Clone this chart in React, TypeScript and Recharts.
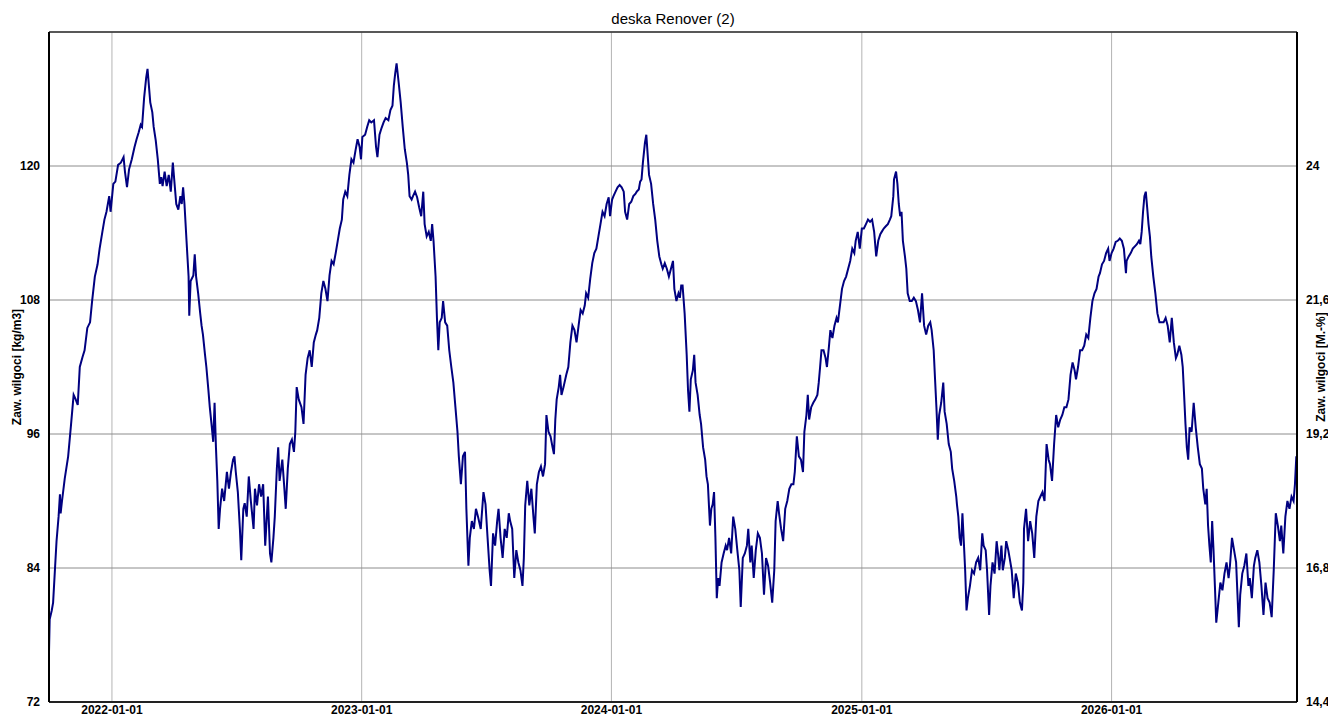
import { LineChart, Line, XAxis, YAxis, CartesianGrid, ReferenceLine, Label } from 'recharts'

// x values are days counted from 2022-01-01
const xTickDays = [0, 365, 730, 1096, 1461]
const xTickLabels = ['2022-01-01', '2023-01-01', '2024-01-01', '2025-01-01', '2026-01-01']
const leftTicks = [72, 84, 96, 108, 120]
const rightTicks = [14.4, 16.8, 19.2, 21.6, 24]

const days1 = [
  -92, -91, -88, -86, -83, -81, -78, -76, -75, -73, -69, -64, -60, -56, -53, -50, -47, -43, -40, -36,
  -32, -29, -25, -21, -18, -14, -11, -8, -4, -2, 2, 5, 9, 13, 17, 19, 22, 25, 29, 33,
  36, 39, 42, 44, 47, 50, 52, 54, 56, 59, 61, 64, 67, 70, 72, 74, 77, 80, 83, 86,
  89, 91, 94, 97, 100, 102, 104, 106, 109, 112, 113, 115, 119, 121, 123, 126, 129, 131, 133, 136,
  138, 141, 143, 146, 148, 150, 152, 154, 156, 158, 161, 164, 168, 171, 174, 177, 179, 181, 184, 187,
  189, 192, 194, 197, 200, 203, 207, 209, 212, 215, 218, 221, 224, 226, 228, 231, 233, 236, 238, 241,
  243, 245, 249, 252, 254, 257, 260, 263, 266, 268, 270, 273, 277, 280, 283, 286, 289, 292, 295, 298,
  300, 303, 306, 309, 312, 315, 318, 321, 324, 327, 330, 333, 336, 338, 341, 344, 347, 350, 353, 356,
  359, 362, 364, 366,
]
const values1 = [
  76.5, 79.4, 80.2, 80.9, 84.2, 86.4, 88.6, 90.6, 88.9, 90.0, 92.0, 94.0, 96.7, 99.5, 99.1, 98.6, 102.0, 102.9, 103.5, 105.5,
  106.0, 107.9, 110.1, 111.2, 112.6, 114.1, 115.2, 115.9, 117.3, 115.9, 118.4, 118.6, 120.1, 120.3, 120.8, 119.5, 118.1, 119.7, 120.6, 121.7,
  122.4, 123.0, 123.7, 123.5, 126.1, 127.9, 128.7, 127.2, 125.7, 124.8, 123.5, 122.3, 120.6, 118.4, 119.0, 118.2, 119.5, 118.2, 119.2, 117.7,
  120.3, 118.8, 116.6, 116.1, 117.3, 116.6, 118.1, 116.6, 113.3, 110.1, 106.6, 109.7, 110.2, 112.1, 110.1, 108.6, 106.8, 105.7, 104.9, 103.1,
  102.0, 99.9, 98.4, 96.6, 95.3, 98.8, 94.8, 91.8, 87.5, 89.3, 91.1, 90.0, 92.6, 91.1, 92.6, 93.7, 94.0, 92.6, 90.8, 87.5,
  84.7, 89.3, 89.8, 88.6, 92.2, 90.0, 87.5, 91.1, 89.6, 91.5, 90.4, 91.5, 86.0, 88.2, 90.4, 85.3, 84.5, 86.7, 88.6, 92.9,
  94.8, 91.8, 93.7, 91.1, 89.3, 92.9, 95.1, 95.5, 94.4, 96.2, 100.2, 99.1, 98.4, 96.9, 101.3, 102.8, 103.5, 102.0, 104.2, 104.9,
  105.3, 106.4, 108.6, 109.7, 109.0, 107.9, 110.2, 111.5, 111.2, 112.2, 113.3, 114.4, 115.2, 117.0, 117.7, 117.3, 119.2, 120.6, 120.3, 121.4,
  122.4, 121.7, 120.6, 122.6,
]

const days2 = [
  370, 373, 376, 379, 383, 386, 388, 391, 394, 397, 400, 404, 407, 410, 412, 414, 416, 419, 422, 425,
  428, 431, 433, 435, 438, 440, 443, 446, 449, 452, 455, 457, 460, 463, 466, 468, 470, 473, 475, 477,
  479, 482, 484, 487, 490, 493, 496, 499, 502, 505, 507, 510, 513, 516, 518, 521, 523, 526, 529, 532,
  535, 539, 543, 546, 549, 552, 554, 557, 560, 563, 565, 568, 571, 574, 577, 580, 582, 585, 588, 591,
  594, 597, 600, 602, 604, 607, 610, 613, 616, 618, 621, 624, 627, 630, 633, 635, 638, 641, 644, 646,
  648, 650, 653, 655, 657, 660, 664, 667, 670, 673, 676, 679, 682, 685, 688, 691, 693, 696, 699, 702,
  705, 708, 711, 714, 717, 720, 723, 726, 728, 731, 733, 736, 739, 742, 745, 748, 750, 753, 756, 759,
  762, 765, 767, 770, 772, 774, 776, 779, 781, 783, 785, 788, 791, 794, 797, 800, 803, 805, 808, 811,
  814, 817, 820, 822, 825, 828,
]
const values2 = [
  122.8, 123.5, 124.1, 123.9, 124.1, 121.7, 120.8, 122.8, 123.4, 123.9, 124.3, 124.1, 125.0, 125.4, 127.2, 128.3, 129.2, 127.5, 125.7, 123.5,
  121.5, 120.3, 119.2, 117.3, 117.0, 117.3, 117.7, 117.2, 116.3, 115.5, 117.7, 114.8, 113.7, 114.1, 113.3, 114.8, 113.3, 110.1, 106.4, 103.5,
  106.0, 106.4, 107.9, 106.0, 105.7, 103.5, 102.0, 100.6, 98.4, 96.2, 94.0, 91.5, 94.0, 94.4, 89.3, 84.2, 86.7, 88.2, 87.5, 89.3,
  88.6, 87.5, 90.8, 89.7, 86.7, 83.8, 82.4, 87.1, 86.0, 88.2, 89.3, 86.7, 84.9, 87.5, 86.7, 88.9, 88.2, 87.5, 83.1, 85.6,
  84.5, 83.8, 82.4, 84.9, 89.6, 91.8, 89.6, 91.1, 88.6, 87.1, 91.5, 92.6, 93.1, 92.2, 93.3, 97.7, 96.2, 95.8, 94.8, 94.2,
  97.3, 99.1, 100.2, 101.3, 99.5, 100.2, 101.3, 102.0, 104.2, 105.7, 105.3, 104.2, 105.7, 107.1, 106.8, 107.5, 108.6, 108.2, 109.9, 111.3,
  112.2, 112.6, 113.7, 114.8, 115.9, 115.5, 116.6, 117.2, 115.5, 117.0, 117.3, 117.7, 118.1, 118.3, 118.1, 117.7, 115.9, 115.2, 116.6, 116.8,
  117.3, 117.5, 117.7, 117.9, 118.6, 118.8, 120.3, 122.1, 122.8, 121.0, 119.2, 118.4, 116.6, 115.2, 113.3, 111.9, 111.2, 110.8, 111.3, 110.8,
  110.1, 110.8, 111.5, 109.0, 107.9, 108.6,
]

const days3 = [
  830, 832, 834, 837, 840, 842, 844, 846, 849, 851, 853, 856, 859, 861, 864, 867, 869, 871, 874, 876,
  878, 880, 882, 884, 886, 888, 891, 894, 897, 899, 902, 905, 908, 911, 914, 917, 919, 922, 925, 928,
  930, 933, 935, 938, 941, 944, 947, 950, 953, 956, 959, 962, 965, 968, 970, 973, 975, 978, 981, 984,
  987, 990, 993, 996, 998, 1001, 1004, 1007, 1010, 1012, 1015, 1017, 1019, 1022, 1025, 1028, 1031, 1033, 1035, 1037,
  1040, 1043, 1045, 1048, 1050, 1053, 1056, 1059, 1061, 1064, 1067, 1070, 1073, 1076, 1079, 1082, 1085, 1087, 1090, 1093,
  1096, 1099, 1102, 1105, 1108, 1111, 1114, 1117, 1120, 1123, 1125, 1128, 1131, 1134, 1137, 1139, 1142, 1143, 1146, 1148,
  1150, 1152, 1154, 1156, 1159, 1161, 1163, 1166, 1169, 1172, 1175, 1178, 1181, 1184, 1187, 1190, 1193, 1196, 1198, 1201,
  1203, 1205, 1207, 1209, 1212, 1215, 1217, 1220, 1223, 1226, 1228, 1231, 1234, 1235, 1237, 1239, 1241, 1243, 1245, 1247,
  1249, 1251, 1254, 1257, 1260, 1263, 1266, 1269, 1272, 1274, 1277, 1279, 1282, 1284, 1287,
]
const values3 = [
  108.2, 109.3, 109.3, 106.8, 103.1, 99.9, 98.0, 100.9, 101.7, 103.1, 100.6, 99.5, 97.7, 96.9, 94.8, 93.7, 92.2, 91.5, 87.8, 89.3,
  89.7, 90.8, 86.7, 81.3, 83.1, 82.4, 84.5, 85.3, 86.0, 85.6, 86.7, 85.3, 88.6, 87.5, 85.6, 83.8, 80.5, 84.9, 85.3, 86.0,
  87.5, 84.5, 86.0, 83.1, 85.6, 87.1, 86.7, 85.3, 81.6, 84.9, 84.2, 82.7, 80.9, 83.8, 88.2, 90.0, 88.9, 87.5, 86.4, 89.3,
  90.0, 91.1, 91.5, 91.5, 92.6, 95.8, 94.0, 93.7, 92.6, 96.2, 97.7, 99.5, 97.3, 98.4, 98.8, 99.1, 99.5, 100.6, 102.0, 103.5,
  103.5, 102.8, 102.0, 103.9, 105.3, 104.6, 105.7, 106.4, 106.0, 107.5, 109.0, 109.7, 110.1, 110.8, 111.5, 112.6, 112.2, 113.3, 114.1, 112.6,
  114.4, 114.4, 114.8, 115.2, 115.0, 115.2, 114.1, 111.9, 113.3, 113.9, 114.1, 114.4, 114.6, 114.8, 115.2, 115.5, 117.3, 118.8, 119.5, 118.4,
  116.6, 115.5, 115.9, 113.3, 111.9, 110.8, 108.6, 107.9, 107.9, 108.2, 107.9, 107.1, 106.0, 108.6, 105.7, 104.9, 105.7, 106.0, 105.3, 103.5,
  100.9, 98.4, 95.5, 97.7, 98.8, 100.6, 98.0, 96.9, 95.1, 94.4, 92.9, 91.8, 90.4, 89.7, 88.6, 86.7, 86.0, 88.9, 86.4, 83.8,
  80.2, 81.3, 82.4, 83.8, 83.5, 84.5, 84.9, 83.8, 87.1, 86.0, 85.6, 83.8, 79.8, 82.4, 84.5,
]

const days4 = [
  1290, 1293, 1295, 1297, 1300, 1302, 1305, 1307, 1310, 1312, 1315, 1318, 1321, 1324, 1327, 1330, 1332, 1333, 1336, 1339,
  1342, 1345, 1348, 1351, 1354, 1357, 1360, 1363, 1366, 1369, 1371, 1374, 1377, 1380, 1383, 1386, 1389, 1392, 1395, 1398,
  1401, 1404, 1407, 1409, 1412, 1415, 1418, 1421, 1424, 1427, 1430, 1433, 1436, 1439, 1442, 1444, 1447, 1450, 1453, 1456,
  1458, 1461, 1464, 1467, 1470, 1473, 1476, 1479, 1482, 1483, 1486, 1489, 1492, 1495, 1498, 1501, 1503, 1505, 1507, 1509,
  1511, 1513, 1515, 1517, 1519, 1522, 1525, 1528, 1531, 1534, 1537, 1540, 1543, 1546, 1549, 1552, 1555, 1557, 1560, 1563,
  1565, 1567, 1569, 1571, 1573, 1575, 1578, 1581, 1584, 1587, 1590, 1593, 1595, 1598, 1600, 1602, 1604, 1606, 1608, 1610,
  1612, 1614, 1617, 1620, 1623, 1626, 1629, 1632, 1634, 1637, 1640, 1643, 1645, 1647, 1649, 1652, 1655, 1658, 1661, 1663,
  1666, 1669, 1671, 1674, 1677, 1680, 1683, 1686, 1689, 1692, 1695, 1698, 1701, 1704, 1707, 1709, 1712, 1715, 1718, 1721,
  1724, 1727, 1729, 1731,
]
const values4 = [
  83.5, 86.4, 85.3, 83.8, 86.0, 83.8, 84.9, 86.4, 85.6, 84.9, 83.8, 81.3, 83.5, 82.7, 80.9, 80.2, 82.7, 87.5, 89.3, 86.4,
  88.2, 87.1, 84.9, 88.6, 90.0, 90.4, 90.8, 90.0, 95.1, 93.7, 93.3, 91.8, 95.1, 97.7, 96.6, 97.3, 97.7, 98.4, 98.4, 99.1,
  101.3, 102.4, 101.7, 100.9, 102.0, 103.5, 103.5, 103.9, 104.9, 104.6, 106.4, 107.9, 108.6, 109.0, 110.1, 110.4, 111.2, 111.5, 112.2, 112.6,
  111.5, 112.2, 112.6, 113.2, 113.3, 113.5, 113.3, 112.6, 110.4, 111.5, 111.9, 112.2, 112.6, 112.8, 113.0, 113.3, 113.0, 114.1, 115.9, 117.3,
  117.7, 116.3, 114.8, 113.7, 111.9, 110.1, 108.6, 106.8, 106.0, 106.0, 106.0, 106.4, 105.7, 104.2, 106.4, 104.2, 102.8, 103.1, 103.9, 103.1,
  102.0, 99.5, 96.9, 94.8, 93.7, 96.6, 96.2, 98.8, 96.6, 94.8, 93.3, 92.9, 91.1, 89.7, 91.1, 87.8, 86.0, 84.5, 88.2, 85.6,
  82.4, 79.1, 80.9, 82.7, 82.0, 83.5, 84.5, 83.1, 84.2, 86.7, 85.6, 84.5, 81.6, 78.7, 81.6, 83.5, 84.2, 85.3, 82.4, 83.1,
  81.3, 84.2, 84.9, 85.6, 84.5, 82.4, 79.8, 82.7, 81.3, 80.9, 79.6, 83.8, 88.9, 87.8, 86.4, 87.8, 85.3, 88.6, 90.0, 89.3,
  90.4, 90.0, 91.5, 94.0,
]

const allDays = [...days1, ...days2, ...days3, ...days4]
const allValues = [...values1, ...values2, ...values3, ...values4]
const data = allDays.map((day, i) => ({ day, value: allValues[i] }))

const font = "'Liberation Sans', Arial, sans-serif"
const tickStyle = { fill: '#000', fontSize: 12, fontFamily: font, fontWeight: 'bold' as const }

function axisTitle(text: string, dx: number) {
  return (props: any) => {
    const vb = props.viewBox
    const cx = vb.x + dx
    const cy = vb.y + vb.height / 2
    return (
      <text
        x={cx}
        y={cy}
        transform={`rotate(-90 ${cx} ${cy})`}
        textAnchor="middle"
        dominantBaseline="central"
        fill="#000"
        fontSize={12}
        fontWeight="bold"
        fontFamily={font}
      >
        {text}
      </text>
    )
  }
}

export default function App() {
  return (
    <div style={{ position: 'absolute', left: 0, top: 0, width: 1328, height: 718, background: '#fff' }}>
      <div
        style={{
          position: 'absolute',
          left: 49,
          top: 10,
          width: 1248,
          textAlign: 'center',
          fontFamily: font,
          fontSize: 15,
          lineHeight: '18px',
          color: '#000',
        }}
      >
        deska Renover (2)
      </div>
      <LineChart width={1328} height={718} data={data} margin={{ top: 32, right: 0, bottom: 0, left: 0 }}>
        <CartesianGrid horizontal={false} stroke="#b4b4b4" strokeWidth={1} />
        <CartesianGrid vertical={false} stroke="#8c8c8c" strokeWidth={1} />
        <XAxis
          dataKey="day"
          type="number"
          domain={[-92, 1732]}
          ticks={xTickDays}
          tickFormatter={(d: number) => xTickLabels[xTickDays.indexOf(d)] ?? ''}
          allowDataOverflow
          height={16}
          tickLine={false}
          tickSize={0}
          tickMargin={3}
          tick={tickStyle}
          axisLine={{ stroke: '#222', strokeWidth: 2 }}
        />
        <YAxis
          domain={[72, 132]}
          ticks={leftTicks}
          allowDataOverflow
          width={49}
          tickLine={false}
          tickMargin={3}
          tick={tickStyle}
          axisLine={{ stroke: '#000', strokeWidth: 2 }}
        >
          <Label content={axisTitle('Zaw. wilgoci [kg/m3]', 17)} />
        </YAxis>
        <YAxis
          yAxisId="right"
          orientation="right"
          type="number"
          domain={[14.4, 26.4]}
          ticks={rightTicks}
          allowDataOverflow
          width={31}
          tickLine={false}
          tickMargin={3}
          tick={tickStyle}
          tickFormatter={(v: number) => String(v).replace('.', ',')}
          axisLine={{ stroke: '#000', strokeWidth: 2 }}
        >
          <Label content={axisTitle('Zaw. wilgoci [M.-%]', 24)} />
        </YAxis>
        <ReferenceLine y={132} stroke="#333" strokeWidth={1.5} />
        <Line
          type="linear"
          dataKey="value"
          stroke="#000080"
          strokeWidth={2}
          dot={false}
          isAnimationActive={false}
        />
      </LineChart>
    </div>
  )
}
